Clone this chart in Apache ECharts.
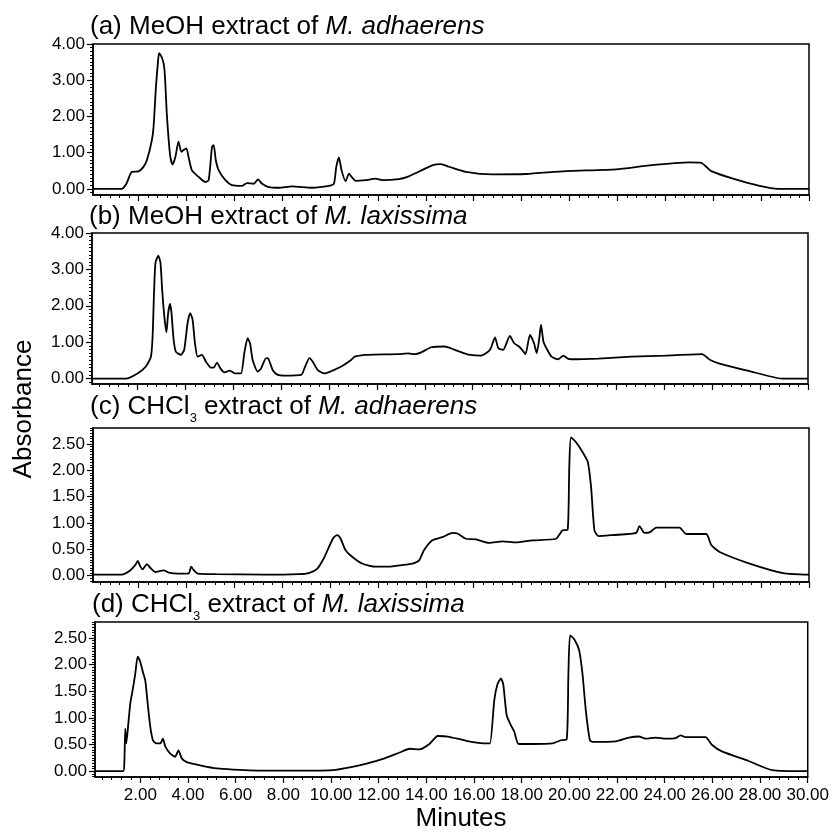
<!DOCTYPE html>
<html>
<head>
<meta charset="utf-8">
<script src="https://cdn.jsdelivr.net/npm/echarts@6/dist/echarts.min.js"></script>
<style>
html,body{margin:0;padding:0;background:#fff;}
#chart{width:832px;height:837px;}
</style>
</head>
<body>
<div id="chart"></div>
<script>
// ---- data (minutes, absorbance) ----
const seriesA = [[0.1,0],[1.29,0],[1.5,0.15],[1.72,0.47],[2.0,0.48],[2.2,0.6],[2.35,0.79],[2.56,1.35],[2.63,1.72],[2.73,2.83],[2.81,3.48],[2.86,3.75],[2.98,3.62],[3.07,3.38],[3.12,2.92],[3.18,2.09],[3.26,1.35],[3.33,0.88],[3.42,0.67],[3.54,0.88],[3.67,1.30],[3.79,1.02],[3.88,1.07],[4.0,1.12],[4.09,0.88],[4.23,0.51],[4.51,0.33],[4.79,0.19],[4.93,0.24],[5.07,1.16],[5.14,1.21],[5.23,0.79],[5.35,0.51],[5.63,0.24],[5.90,0.10],[6.32,0.08],[6.53,0.16],[6.81,0.14],[6.99,0.26],[7.16,0.14],[7.44,0.05],[7.86,0.03],[8.41,0.07],[9.25,0.03],[9.95,0.08],[10.16,0.14],[10.26,0.61],[10.37,0.87],[10.48,0.51],[10.65,0.21],[10.79,0.42],[10.90,0.33],[11.07,0.22],[11.49,0.24],[11.9,0.28],[12.18,0.24],[12.87,0.27],[13.23,0.33],[13.72,0.48],[14.27,0.65],[14.62,0.68],[14.97,0.61],[15.67,0.47],[16.78,0.40],[18.18,0.41],[19.85,0.49],[21.95,0.54],[23.34,0.65],[25.0,0.73],[25.5,0.72],[25.71,0.61],[25.92,0.49],[26.83,0.28],[27.94,0.08],[28.71,0],[30,0]];
const seriesB = [[0.1,0],[1.51,0],[2.0,0.14],[2.35,0.33],[2.56,0.6],[2.63,1.15],[2.69,2.35],[2.75,3.18],[2.87,3.38],[2.96,3.18],[3.03,2.44],[3.12,1.71],[3.21,1.27],[3.28,1.8],[3.36,2.05],[3.42,1.8],[3.51,1.06],[3.60,0.74],[3.81,0.65],[3.95,0.79],[4.09,1.52],[4.2,1.80],[4.3,1.62],[4.40,0.97],[4.51,0.60],[4.69,0.65],[4.86,0.46],[5.07,0.30],[5.18,0.30],[5.32,0.44],[5.46,0.28],[5.63,0.17],[5.86,0.22],[6.07,0.14],[6.32,0.14],[6.46,0.70],[6.6,1.11],[6.70,0.97],[6.81,0.51],[7.02,0.19],[7.16,0.28],[7.37,0.56],[7.47,0.54],[7.65,0.23],[7.86,0.10],[8.14,0.08],[8.84,0.10],[8.97,0.28],[9.18,0.56],[9.32,0.46],[9.53,0.23],[9.81,0.14],[10.08,0.2],[10.51,0.33],[10.92,0.51],[11.07,0.6],[11.49,0.65],[11.9,0.66],[12.88,0.67],[13.3,0.69],[13.58,0.67],[13.85,0.72],[14.27,0.86],[14.83,0.88],[15.25,0.79],[15.53,0.72],[15.81,0.66],[16.36,0.63],[16.72,0.79],[16.93,1.13],[17.07,0.83],[17.27,0.79],[17.55,1.17],[17.73,0.97],[17.93,0.88],[18.06,0.79],[18.2,0.67],[18.39,1.20],[18.56,0.97],[18.67,0.70],[18.77,1.06],[18.85,1.48],[18.95,1.02],[19.08,0.83],[19.29,0.60],[19.57,0.53],[19.78,0.63],[19.99,0.54],[20.13,0.53],[21.25,0.55],[22.64,0.6],[24.04,0.63],[25.57,0.67],[25.92,0.51],[26.27,0.42],[27.52,0.21],[28.92,0],[30,0]];
const seriesC = [[0.1,0.02],[1.30,0.02],[1.65,0.10],[1.86,0.2],[1.97,0.28],[2.07,0.18],[2.17,0.12],[2.35,0.22],[2.49,0.15],[2.70,0.07],[2.91,0.09],[3.05,0.10],[3.26,0.06],[3.67,0.04],[4.09,0.04],[4.2,0.17],[4.30,0.11],[4.48,0.04],[5.21,0.03],[7.30,0.02],[8.69,0.03],[9.11,0.05],[9.46,0.13],[9.74,0.33],[10.02,0.61],[10.16,0.73],[10.3,0.77],[10.44,0.70],[10.65,0.48],[10.92,0.36],[11.34,0.23],[11.90,0.17],[12.46,0.17],[13.0,0.20],[13.44,0.23],[13.72,0.29],[13.92,0.48],[14.27,0.67],[14.69,0.73],[15.11,0.81],[15.32,0.80],[15.67,0.70],[16.09,0.69],[16.65,0.62],[17.2,0.65],[17.76,0.63],[18.45,0.67],[19.43,0.70],[19.71,0.86],[19.92,0.87],[19.99,2.06],[20.06,2.62],[20.27,2.53],[20.55,2.34],[20.76,2.16],[20.90,1.68],[21.04,0.86],[21.21,0.75],[21.80,0.77],[22.78,0.81],[22.92,0.94],[23.13,0.81],[23.34,0.82],[23.62,0.91],[24.04,0.91],[24.59,0.91],[24.87,0.79],[25.71,0.79],[25.92,0.58],[26.27,0.45],[27.52,0.23],[28.92,0.05],[30,0.02]];
const seriesD = [[0.1,0],[1.28,0],[1.33,0.15],[1.37,0.80],[1.41,0.52],[1.46,0.71],[1.58,1.27],[1.69,1.55],[1.79,1.83],[1.89,2.15],[2.0,2.05],[2.11,1.86],[2.21,1.70],[2.31,1.27],[2.42,0.83],[2.53,0.58],[2.67,0.52],[2.84,0.52],[2.95,0.61],[3.05,0.46],[3.26,0.33],[3.46,0.27],[3.60,0.39],[3.74,0.24],[3.95,0.17],[4.51,0.11],[5.21,0.05],[5.9,0.03],[7.3,0.01],[8.69,0.01],[10.09,0.02],[10.79,0.07],[11.49,0.14],[12.18,0.23],[12.88,0.35],[13.30,0.42],[13.72,0.41],[14.13,0.51],[14.48,0.66],[14.9,0.65],[15.67,0.57],[16.51,0.52],[16.67,0.52],[16.85,1.33],[16.99,1.64],[17.13,1.74],[17.23,1.62],[17.37,1.05],[17.55,0.86],[17.69,0.74],[17.87,0.51],[18.46,0.51],[19.29,0.52],[19.64,0.58],[19.89,0.60],[19.96,1.83],[20.03,2.55],[20.2,2.48],[20.41,2.27],[20.55,1.83],[20.69,1.14],[20.86,0.58],[20.97,0.55],[21.95,0.56],[22.50,0.63],[22.92,0.65],[23.20,0.61],[23.62,0.63],[24.04,0.61],[24.46,0.62],[24.67,0.67],[24.87,0.64],[25.71,0.64],[25.99,0.49],[26.40,0.37],[27.52,0.19],[28.5,0.02],[30,0]];

// ---- tick labels ----
const xTickLabels = [2,4,6,8,10,12,14,16,18,20,22,24,26,28,30];
const yTicksMeOH = [0,1,2,3,4];
const yTicksCHCl3 = [0,0.5,1,1.5,2,2.5];

// ---- panel titles ----
const panelTitles = [
  '{n|(a) MeOH extract of }{i|M. adhaerens}',
  '{n|(b) MeOH extract of }{i|M. laxissima}',
  '{n|(c) CHCl}{s|3}{n| extract of }{i|M. adhaerens}',
  '{n|(d) CHCl}{s|3}{n| extract of }{i|M. laxissima}'
];

const FONT = 'Liberation Sans, Arial, Helvetica, sans-serif';
function steps(from, to, step){ const a=[]; for(let v=from; v<=to+1e-9; v+=step) a.push(Math.round(v*1000)/1000); return a; }
const xMinor = steps(0.4, 29.6, 0.4);

const panels = [
  {data: seriesA, top: 44, height: 151, left: 93, right: 23, ymin: -0.17, ymax: 4, ticks: yTicksMeOH, minorStep: 0.1, titleTop: 9},
  {data: seriesB, top: 233, height: 151, left: 92, right: 24, ymin: -0.15, ymax: 4, ticks: yTicksMeOH, minorStep: 0.1, titleTop: 199},
  {data: seriesC, top: 428, height: 154, left: 93, right: 23, ymin: -0.12, ymax: 2.8, ticks: yTicksCHCl3, minorStep: 0.05, titleTop: 389},
  {data: seriesD, top: 622, height: 155, left: 95, right: 21, ymin: -0.11, ymax: 2.8, ticks: yTicksCHCl3, minorStep: 0.05, titleTop: 587}
];

const grid=[], xAxis=[], yAxis=[], series=[], title=[];
panels.forEach((p,i)=>{
  grid.push({left:p.left, right:p.right, top:p.top, height:p.height, show:true, borderColor:'#000', borderWidth:1.5, backgroundColor:'transparent'});
  const last = i===panels.length-1;
  xAxis.push({type:'value', gridIndex:i, min:0.1, max:30, position:'bottom',
    axisLine:{show:true, onZero:false, lineStyle:{color:'#000', width:1.5}},
    axisTick:{show:true, inside:false, length:6, customValues:xTickLabels, lineStyle:{color:'#000', width:1.2}},
    axisLabel:{show:last, customValues:xTickLabels, formatter:v=>v.toFixed(2), color:'#000', fontSize:17, fontFamily:FONT, margin:10},
    splitLine:{show:false}});
  xAxis.push({type:'value', gridIndex:i, min:0.1, max:30, position:'bottom',
    axisLine:{show:false, onZero:false},
    axisTick:{show:true, inside:false, length:3, customValues:xMinor, lineStyle:{color:'#000', width:1}},
    axisLabel:{show:false}, splitLine:{show:false}});
  const minor = steps(Math.ceil(p.ymin/p.minorStep)*p.minorStep, p.ymax, p.minorStep);
  yAxis.push({type:'value', gridIndex:i, min:p.ymin, max:p.ymax, position:'left',
    axisLine:{show:true, onZero:false, lineStyle:{color:'#000', width:1.5}},
    axisTick:{show:true, inside:false, length:6, customValues:p.ticks, lineStyle:{color:'#000', width:1.2}},
    axisLabel:{show:true, customValues:p.ticks, formatter:v=>v.toFixed(2), color:'#000', fontSize:17, fontFamily:FONT, margin:8},
    splitLine:{show:false}});
  yAxis.push({type:'value', gridIndex:i, min:p.ymin, max:p.ymax, position:'left',
    axisLine:{show:false, onZero:false},
    axisTick:{show:true, inside:false, length:3, customValues:minor, lineStyle:{color:'#000', width:1}},
    axisLabel:{show:false}, splitLine:{show:false}});
  series.push({type:'line', xAxisIndex:i*2, yAxisIndex:i*2, data:p.data, showSymbol:false, symbol:'none',
    smooth:0.2, lineStyle:{color:'#000', width:1.8}, silent:true, animation:false, clip:true});
  title.push({text:panelTitles[i], left:p.left-3, top:p.titleTop, padding:0,
    textStyle:{fontWeight:'normal', rich:{
      n:{fontSize:26, fontFamily:FONT, fontWeight:'normal', color:'#000', lineHeight:36},
      i:{fontSize:26, fontFamily:FONT, fontStyle:'italic', fontWeight:'normal', color:'#000', lineHeight:36},
      s:{fontSize:13, fontFamily:FONT, fontWeight:'normal', color:'#000', lineHeight:12, verticalAlign:'bottom'}
    }}});
});

const chart = echarts.init(document.getElementById('chart'), null, {renderer:'canvas'});
chart.setOption({
  animation:false,
  backgroundColor:'#fff',
  title, grid, xAxis, yAxis, series,
  graphic:[
    {type:'text', x:24, y:409, rotation:Math.PI/2, style:{text:'Absorbance', font:'26px '+FONT, fill:'#000', textAlign:'center', textVerticalAlign:'middle'}},
    {type:'text', x:461, y:819, style:{text:'Minutes', font:'26px '+FONT, fill:'#000', textAlign:'center', textVerticalAlign:'middle'}}
  ]
});
</script>
</body>
</html>
